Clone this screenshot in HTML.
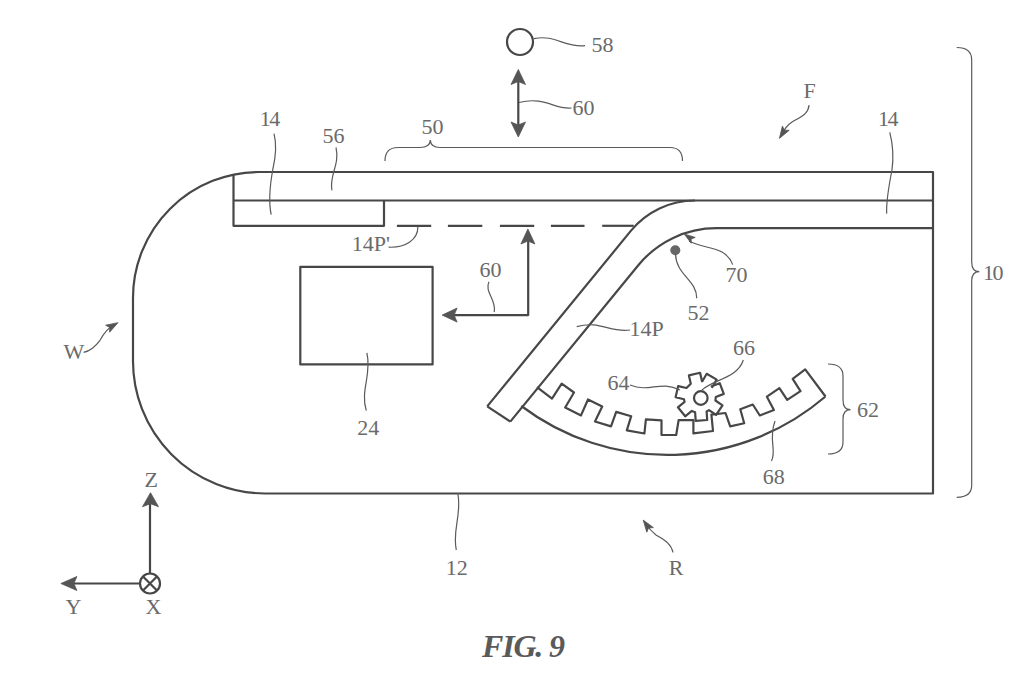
<!DOCTYPE html>
<html><head><meta charset="utf-8"><style>
html,body{margin:0;padding:0;background:#fff;}
svg{display:block;}
.m{fill:none;stroke:#474747;stroke-width:2.2;stroke-linejoin:round;}
.t{fill:none;stroke:#5a5a5a;stroke-width:1.2;}
.h{fill:#555;stroke:#555;stroke-width:0.8;}
text{font-family:"Liberation Serif",serif;font-size:22px;fill:#6a6a6a;}
.fig{font-style:italic;font-weight:bold;font-size:32px;letter-spacing:-1.2px;fill:#5a5a5a;}
</style></head><body>
<svg width="1024" height="691" viewBox="0 0 1024 691">
<path d="M259,172 A126,126 0 0 0 133,298 L133,360 A132.5,132.5 0 0 0 265,493.5 L933,493.5 L933,172 Z" class="m"/>
<path d="M233.5,175 L233.5,225.8 L384,225.8 L384,200.5" class="m"/>
<path d="M233.5,200.5 L933,200.5" class="m"/>
<path d="M487.2,406.4 L630.8,230.9 A83,83 0 0 1 695,200.5" class="m"/>
<path d="M510.3,421.6 L638.3,265.2 A101,101 0 0 1 716.4,228.2 L933,228.2" class="m"/>
<path d="M487.2,406.4 L510.3,421.6" class="m"/>
<path d="M396.9,225.8 L431.2,225.8" class="m"/>
<path d="M447.9,225.8 L482.3,225.8" class="m"/>
<path d="M499.9,225.8 L534.2,225.8" class="m"/>
<path d="M550.9,225.8 L584.5,225.8" class="m"/>
<path d="M602.2,225.8 L633.7,225.8" class="m"/>
<rect x="300.3" y="266.8" width="132.3" height="97.6" class="m"/>
<path d="M528.2,240 L528.2,315.1 L452,315.1" class="m"/>
<polygon points="527.9,229 534.9,244 527.9,241 520.9,244" class="h"/>
<polygon points="442.1,315.1 457.1,308.1 454.1,315.1 457.1,322.1" class="h"/>
<polyline points="537,387.2 552,398.7 561.7,383.7 574,392.5 565.2,407.5 581,415.4 588,399.5 602.2,406.6 595,421.5 611,426.4 616.2,411.9 631.2,416.2 626.8,430.3 644.4,433.5 645.9,419.3 661.5,420.3 661.5,435 676.2,435 678.6,420.2 693.4,420.2 693.4,433.4 713,431 711.4,414.7 725.5,413 730.2,426.4 744.2,423.3 740.3,409.2 752.8,404.5 759.8,415.5 773.9,410 766.9,396.7 779.4,388.1 787.2,399.8 800.5,391.2 792.7,378.8 805.2,369.4 825.5,396.5" class="m"/>
<path d="M521.3,406 A242.8,242.8 0 0 0 825.5,396.5" class="m"/>
<polygon points="690.8,383.7 688.9,375.4 700.1,372.8 702,381.2 702.4,381.2 706.7,373.8 716.7,379.6 712.3,387 711.7,386.3 719.7,383.2 723.8,393.9 715.8,397 715.4,400.5 722.5,405.3 716.1,414.9 709,410.1 706.6,411.5 707.2,420 695.7,420.9 695.1,412.3 691.8,410.9 685.2,416.3 677.9,407.3 684.6,401.9 684,399.2 675.6,397.3 678.2,386.1 686.5,388" class="m"/>
<circle cx="700.8" cy="398" r="6.8" class="m"/>
<circle cx="520" cy="42" r="13" class="m"/>
<path d="M518.3,80 L518.3,126" class="m"/>
<polygon points="518.3,69.5 525.5,84.5 518.3,81.5 511,84.5" class="h"/>
<polygon points="518.3,137 511,122 518.3,125 525.5,122" class="h"/>
<circle cx="675.3" cy="250.3" r="5" style="fill:#666"/>
<circle cx="150" cy="583.5" r="10" class="m"/>
<path d="M143,576.5 L157,590.5 M157,576.5 L143,590.5" class="m"/>
<path d="M150,573.5 L150,503" class="m"/>
<polygon points="150.5,492.7 158.5,506.7 150.5,503.7 142.5,506.7" class="h"/>
<path d="M140,583.5 L72,583.5" class="m"/>
<polygon points="60.9,583.5 76.9,576.5 73.9,583.5 76.9,590.5" class="h"/>
<path d="M385,161 Q385,147.5 398,147.5 L420,147.5 Q430,147.5 430.3,140 Q430.6,147.5 440,147.5 L670,147.5 Q682.5,147.5 682.5,161" class="t"/>
<path d="M956.7,47.5 Q971.7,47.5 971.7,60 L971.7,262 Q971.7,271.7 979.3,271.7 Q971.7,271.7 971.7,281 L971.7,485 Q971.7,497.3 956.7,497.3" class="t"/>
<path d="M828,364 Q843,364 843,376 L843,400 Q843,409.7 850.5,409.7 Q843,409.7 843,419 L843,442 Q843,454 828,454" class="t"/>
<path d="M534,38.7 C555,34 565,48 585,45.7" class="t"/>
<path d="M519,102.5 C545,96 555,110 571.5,108" class="t"/>
<path d="M274,133.6 C277,145 275,160 272.8,169.5 C270,185 268,200 271.2,214.6" class="t"/>
<path d="M336,147.5 C340,165 329,175 331.9,190.3" class="t"/>
<path d="M889.8,132.4 C893,145 894,155 892,170 C889,185 886,200 886.7,213.6" class="t"/>
<path d="M417.9,226.8 C418,240 405,248 388.6,247.2" class="t"/>
<path d="M489,281.8 C484,292 497,300 494.2,312.2" class="t"/>
<path d="M366.9,352.8 C372,375 360,390 366.3,410.7" class="t"/>
<path d="M576.7,326.7 C600,320 610,333 630,330" class="t"/>
<path d="M675.5,254 C676,275 697,280 696.7,298.3" class="t"/>
<path d="M689,241 C705,250 725,245 732.7,264.6" class="t"/>
<path d="M743.3,360 C738,378 712,380 702,390" class="t"/>
<path d="M630,385 C650,393 660,380 680,390" class="t"/>
<path d="M775,421 C768,440 777,450 771.5,461" class="t"/>
<path d="M457.8,493 C462,515 452,530 456.3,550" class="t"/>
<path d="M809.1,105.1 C808,115 800,117 792,122 C786,126 784,130 782,134" class="t"/>
<polygon points="779.4,138.4 782.4,126.1 784.4,130.3 789.2,130.3" class="h"/>
<path d="M83.6,352.4 C90,351 95,347 100,340.3 C104,333 108,328 113,325.5" class="t"/>
<polygon points="118,322.7 109.6,332.2 109.8,327.4 105.6,325.2" class="h"/>
<path d="M673,552.5 C671,543 664,540 656,535 C651,531 648,527 646,524" class="t"/>
<polygon points="643.2,520.1 653.4,527.6 648.6,527.9 646.8,532.2" class="h"/>
<polygon points="684.2,234 695.2,237.4 691.2,238.9 691.2,243.2" class="h"/>
<text x="591.6" y="52">58</text>
<text x="572.6" y="115">60</text>
<text x="421.6" y="133.6">50</text>
<text x="803.6" y="98">F</text>
<text x="259.8" y="125.8" letter-spacing="-1.5">14</text>
<text x="322.6" y="142.6">56</text>
<text x="878" y="126.4" letter-spacing="-1.5">14</text>
<text x="983" y="280" letter-spacing="-1.5">10</text>
<text x="351.8" y="251.4">14P'</text>
<text x="479.6" y="277">60</text>
<text x="357.2" y="434.8">24</text>
<text x="629.4" y="336.4">14P</text>
<text x="687.6" y="319.6">52</text>
<text x="725.4" y="282.4">70</text>
<text x="733" y="355">66</text>
<text x="607.6" y="390.4">64</text>
<text x="857" y="417.4">62</text>
<text x="762.8" y="483.8">68</text>
<text x="63.6" y="359">W</text>
<text x="144.6" y="487.2">Z</text>
<text x="65.6" y="614">Y</text>
<text x="145.6" y="614">X</text>
<text x="445.8" y="574.8">12</text>
<text x="668.8" y="574.8">R</text>
<text x="482" y="657" class="fig">FIG. 9</text>
</svg>
</body></html>
